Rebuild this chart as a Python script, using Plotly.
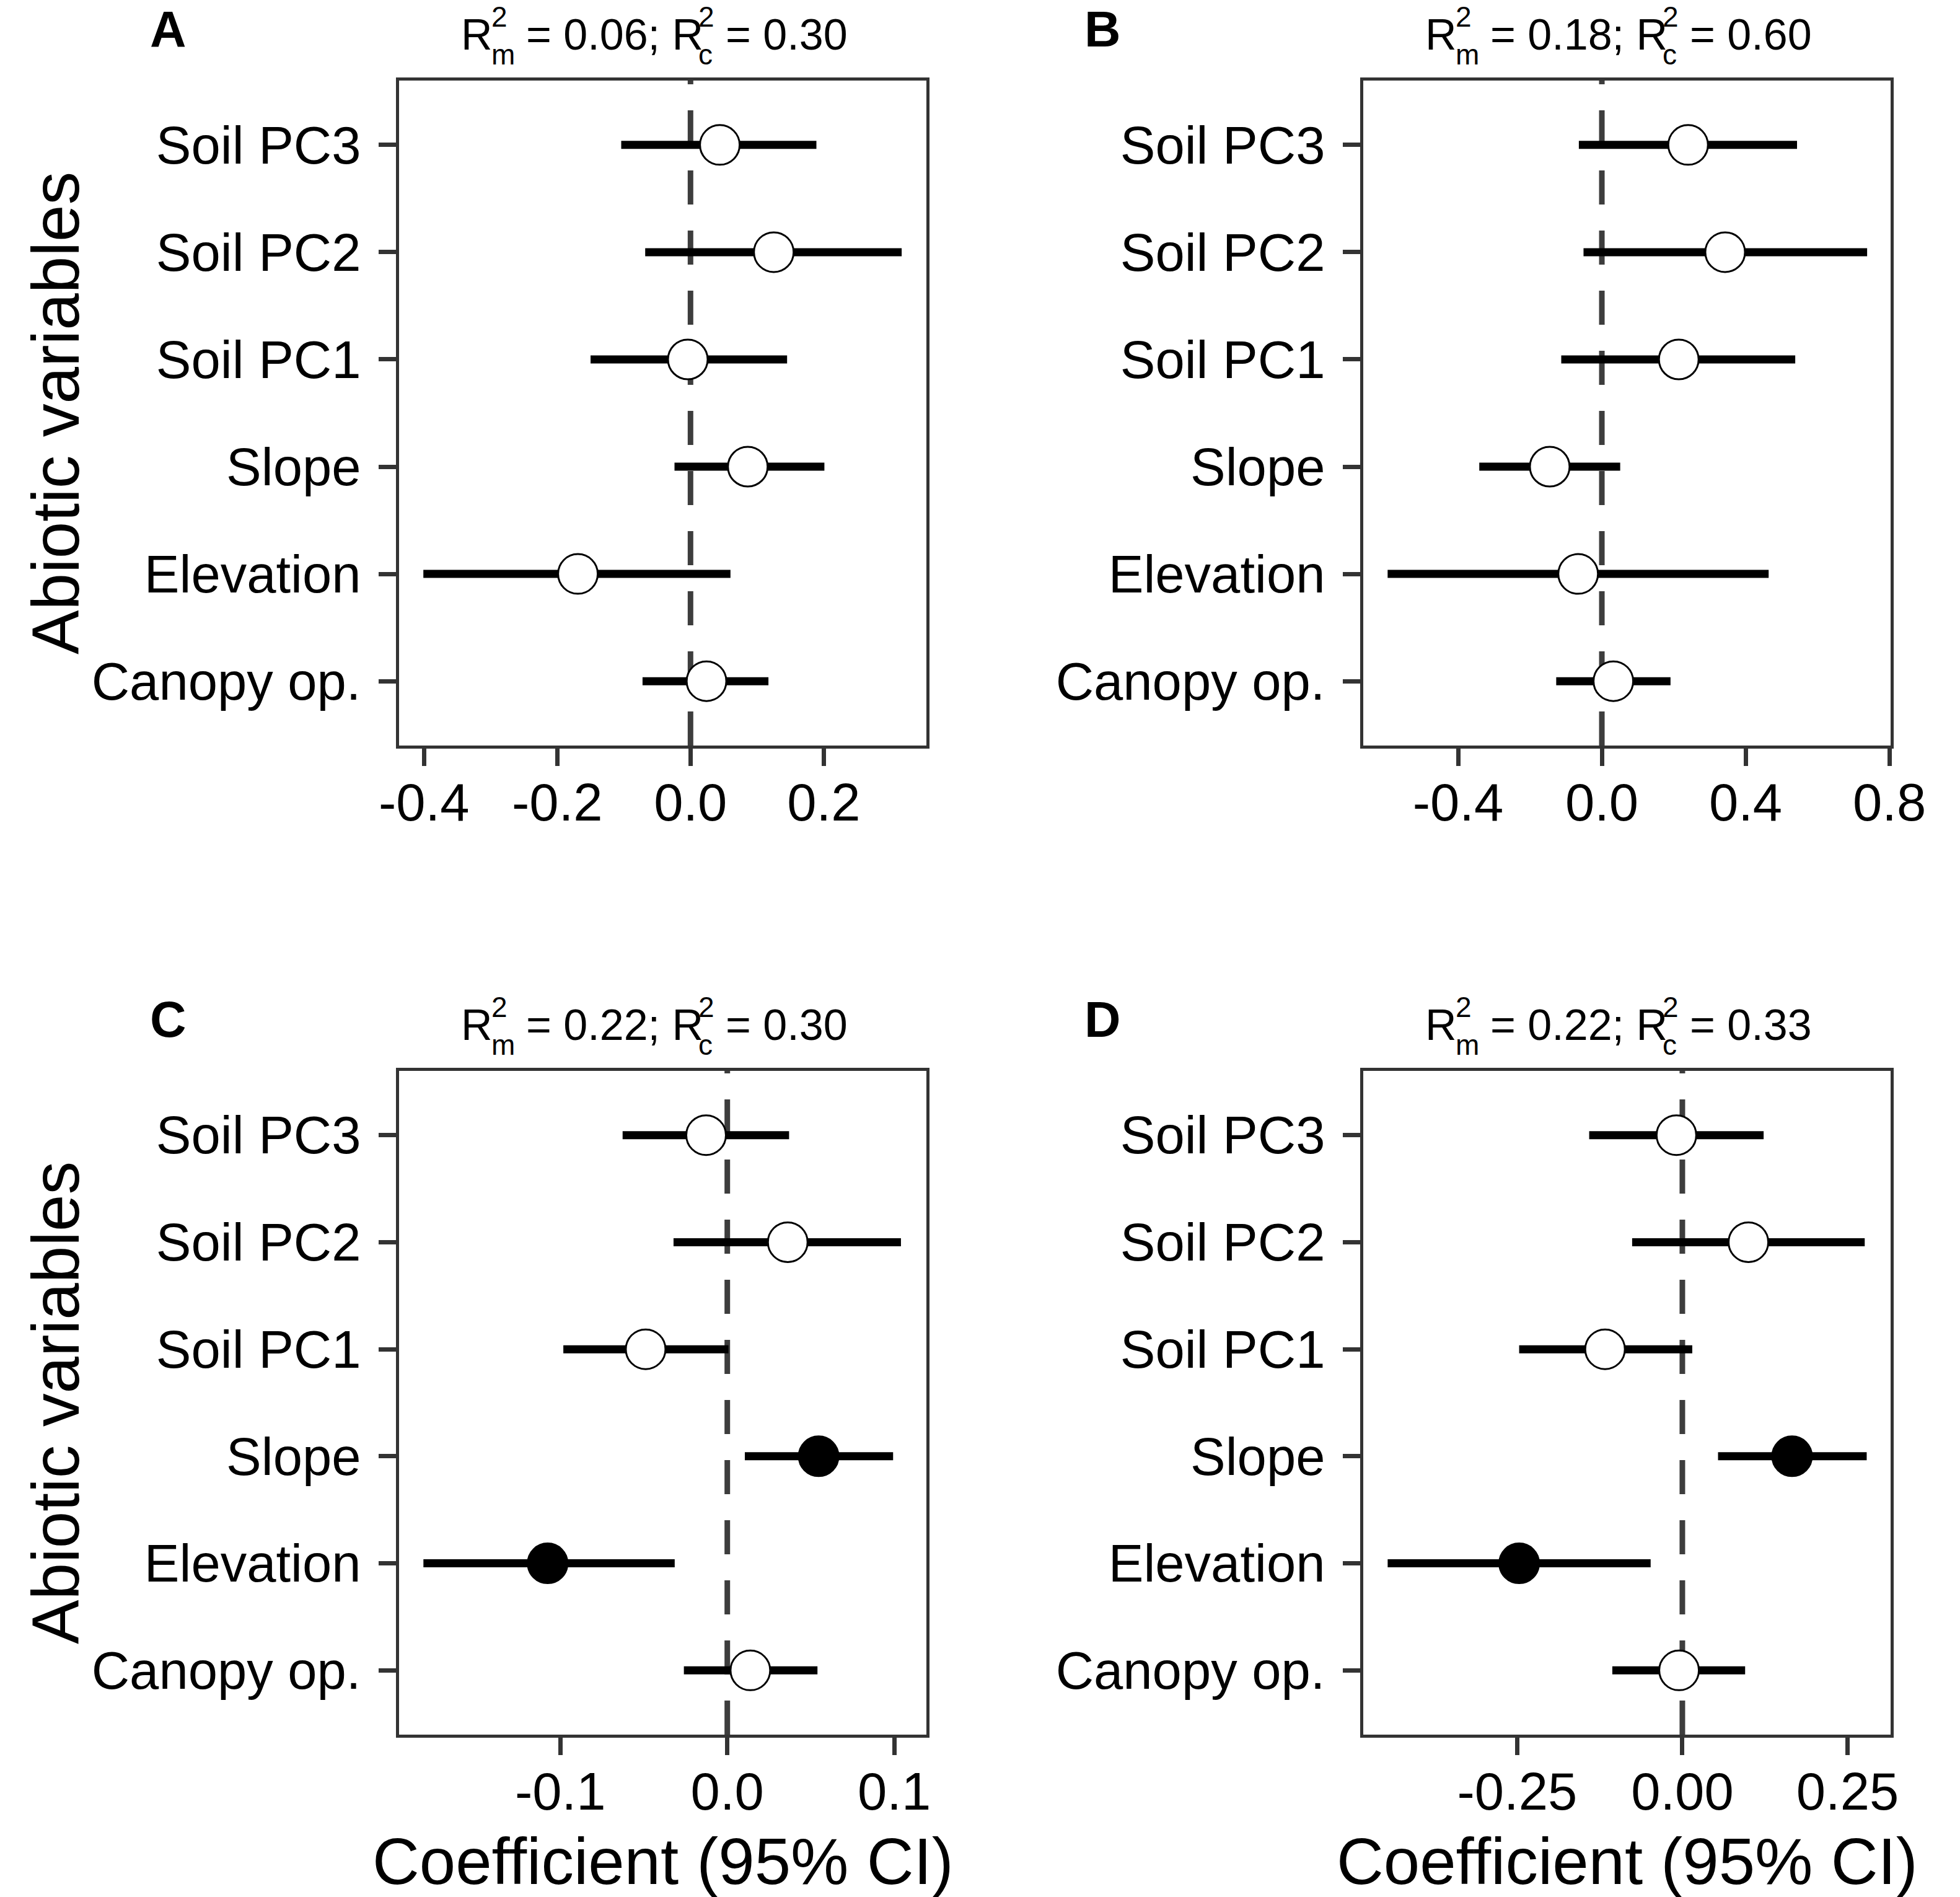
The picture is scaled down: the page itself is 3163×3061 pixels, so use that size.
import plotly.graph_objects as go

W, H = 3163, 3061
FONT = "Liberation Sans, Arial, sans-serif"

# categories, bottom to top
variables = ["Canopy op.", "Elevation", "Slope", "Soil PC1", "Soil PC2", "Soil PC3"]

# A
a_est = [0.024, -0.169, 0.086, -0.004, 0.125, 0.044]
a_lo = [-0.072, -0.401, -0.024, -0.150, -0.068, -0.104]
a_hi = [0.117, 0.060, 0.201, 0.145, 0.317, 0.189]
# B
b_est = [0.032, -0.066, -0.145, 0.214, 0.343, 0.240]
b_lo = [-0.127, -0.596, -0.341, -0.113, -0.051, -0.064]
b_hi = [0.191, 0.464, 0.051, 0.538, 0.738, 0.543]
# C
c_est = [0.0138, -0.1076, 0.0547, -0.0489, 0.0362, -0.0127]
c_lo = [-0.0260, -0.1820, 0.0105, -0.0982, -0.0322, -0.0627]
c_hi = [0.0540, -0.0315, 0.0993, 0.0007, 0.1040, 0.0370]
# D
d_est = [-0.005, -0.247, 0.166, -0.117, 0.100, -0.009]
d_lo = [-0.106, -0.446, 0.054, -0.247, -0.076, -0.141]
d_hi = [0.095, -0.048, 0.279, 0.015, 0.276, 0.123]

panel_letters = ["A", "B", "C", "D"]
r2_marginal = ["0.06", "0.18", "0.22", "0.22"]
r2_conditional = ["0.30", "0.60", "0.30", "0.33"]

a_ticks = [-0.4, -0.2, 0.0, 0.2]
a_ticktext = ["-0.4", "-0.2", "0.0", "0.2"]
b_ticks = [-0.4, 0.0, 0.4, 0.8]
b_ticktext = ["-0.4", "0.0", "0.4", "0.8"]
c_ticks = [-0.1, 0.0, 0.1]
c_ticktext = ["-0.1", "0.0", "0.1"]
d_ticks = [-0.25, 0.0, 0.25]
d_ticktext = ["-0.25", "0.00", "0.25"]

panels = [
    (a_est, a_lo, a_hi, a_ticks, a_ticktext, [-0.437, 0.354]),
    (b_est, b_lo, b_hi, b_ticks, b_ticktext, [-0.663, 0.803]),
    (c_est, c_lo, c_hi, c_ticks, c_ticktext, [-0.1964, 0.1192]),
    (d_est, d_lo, d_hi, d_ticks, d_ticktext, [-0.4825, 0.315]),
]

# panel boxes in pixels: left, right, top, bottom
boxes = [
    (622, 1497, 122, 1195),
    (2223, 3098, 122, 1195),
    (622, 1497, 1720, 2791),
    (2223, 3098, 1720, 2791),
]
letter_x = [206, 1757, 206, 1757]


def px(x):
    return x / W


def py(y):
    return 1 - y / H


def text_ann(txt, x, baseline, size, bold=False, anchor="left", angle=0):
    ann = dict(
        text=f"<b>{txt}</b>" if bold else txt,
        xref="paper", yref="paper",
        showarrow=False,
        font=dict(family=FONT, size=size, color="black"),
        textangle=angle,
    )
    if angle == 0:
        ann.update(x=px(x), y=py(baseline - 0.3465 * size), xanchor=anchor, yanchor="middle")
    else:
        ann.update(x=px(baseline - 0.3465 * size), y=py(x), xanchor="center", yanchor="middle")
    return ann


fig = go.Figure()
annotations = []
shapes = []
layout = {}

T, S = 70, 46  # title font, sub/superscript font
for i, (est, lo, hi, ticks, ticktext, xr) in enumerate(panels):
    n = "" if i == 0 else str(i + 1)
    xa, ya = "x" + n, "y" + n
    left, right, top, bottom = boxes[i]
    sig = [l > 0 or h < 0 for l, h in zip(lo, hi)]

    fig.add_trace(go.Scatter(
        x=est, y=variables, xaxis=xa, yaxis=ya,
        mode="markers",
        marker=dict(size=64, color=["black" if s else "white" for s in sig],
                    line=dict(color="black", width=3)),
        error_x=dict(type="data", symmetric=False,
                     array=[h - e for h, e in zip(hi, est)],
                     arrayminus=[e - l for e, l in zip(est, lo)],
                     width=0, thickness=13, color="black"),
        showlegend=False, cliponaxis=False,
    ))

    axis_common = dict(
        showline=True, mirror=True, linecolor="#333333", linewidth=5,
        ticks="outside", ticklen=28, tickwidth=7, tickcolor="#333333",
        showgrid=False, zeroline=False,
        tickfont=dict(family=FONT, size=85, color="black"),
    )
    layout["xaxis" + n] = dict(
        axis_common, domain=[px(left), px(right)], anchor=ya, range=xr,
        tickvals=ticks, ticktext=ticktext, ticklabelstandoff=-14,
    )
    layout["yaxis" + n] = dict(
        axis_common, domain=[py(bottom), py(top)], anchor=xa,
        type="category", categoryorder="array", categoryarray=variables,
        range=[-0.6, 5.6], ticklabelstandoff=12,
    )

    shapes.append(dict(
        type="line", xref=xa, yref=ya + " domain", x0=0, x1=0, y0=0, y1=1,
        line=dict(color="#3d3d3d", width=9, dash="55px,42px"), layer="below",
    ))

    # panel letter
    dy = top - 122
    annotations.append(text_ann(panel_letters[i], letter_x[i], 67 + dy, 81, bold=True))

    # title R2m = ..; R2c = ..
    base = 72 + dy
    x0 = left + 100
    annotations.append(text_ann("R", x0, base, T))
    xs = x0 + 0.722 * T
    annotations.append(text_ann("2", xs, base - 37, S))
    annotations.append(text_ann("m", xs, base + 24, S))
    x3 = xs + 0.833 * S + 0.278 * T
    annotations.append(text_ann(f"= {r2_marginal[i]}; R", x3, base, T))
    x4 = x3 + 4.086 * T
    annotations.append(text_ann("2", x4, base - 37, S))
    annotations.append(text_ann("c", x4, base + 24, S))
    x5 = x4 + 0.556 * S + 0.278 * T
    annotations.append(text_ann(f"= {r2_conditional[i]}", x5, base, T))

    if i in (0, 2):
        annotations.append(text_ann("Abiotic variables", (top + bottom) / 2, 88, 107, angle=-90))
    if i in (2, 3):
        annotations.append(text_ann("Coefficient (95% CI)", (left + right) / 2, 3032, 105, anchor="center"))

fig.update_layout(
    width=W, height=H,
    margin=dict(l=0, r=0, t=0, b=0),
    paper_bgcolor="white", plot_bgcolor="white",
    annotations=annotations, shapes=shapes,
    **layout,
)

fig.write_html("out.html")
